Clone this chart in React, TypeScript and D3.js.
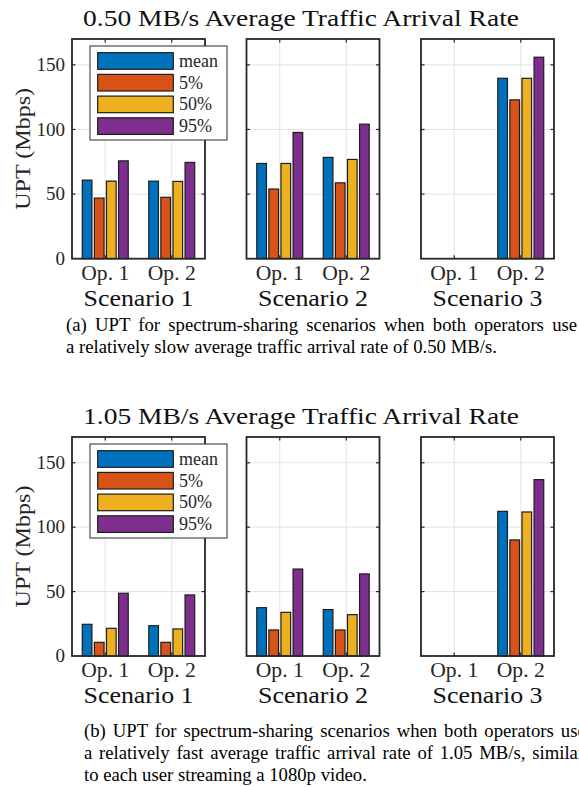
import React from "react";
import * as d3 from "d3";

// Categories
const scenarioLabels = ["Scenario 1", "Scenario 2", "Scenario 3"];
const operatorLabels = ["Op. 1", "Op. 2"];
const statLabels = ["mean", "5%", "50%", "95%"];
const yTickValues = [0, 50, 100, 150];

// UPT (Mbps) at 0.50 MB/s — [scenario][operator]
const slowMean = [[60.8, 60.0], [73.7, 78.4], [0, 139.6]];
const slowP5 = [[46.9, 47.5], [53.9, 58.7], [0, 122.9]];
const slowP50 = [[60.0, 59.8], [73.7, 76.8], [0, 139.6]];
const slowP95 = [[75.7, 74.5], [97.7, 104.1], [0, 155.9]];

// UPT (Mbps) at 1.05 MB/s — [scenario][operator]
const fastMean = [[24.6, 23.5], [37.5, 36.0], [0, 112.3]];
const fastP5 = [[10.6, 10.6], [20.2, 20.2], [0, 90.1]];
const fastP50 = [[21.5, 21.0], [33.9, 32.1], [0, 111.8]];
const fastP95 = [[48.7, 47.4], [67.5, 63.7], [0, 136.9]];

const W = 579;
const H = 787;
const FONT = "'Liberation Serif', 'Times New Roman', serif";
const AX = "#262626";
const COLORS = ["#0072BD", "#D95319", "#EDB120", "#7E2F8E"];

const panelLefts = [72, 246.5, 421];
const panelWidth = 133;
const tickLen = 3.5;

type Layout = {
  axTop: number;
  axBottom: number;
  titleY: number;
  opY: number;
  scenY: number;
  legendTop: number;
};

function BarFigure({
  title,
  series,
  layout,
}: {
  title: string;
  series: number[][][];
  layout: Layout;
}) {
  const { axTop, axBottom, titleY, opY, scenY, legendTop } = layout;
  const y = d3.scaleLinear().domain([0, 170]).range([axBottom, axTop]);
  // grouped bars: 4 bars within 8/11 of a category unit
  const inner = d3
    .scaleBand<string>()
    .domain(statLabels)
    .range([-4 / 11, 4 / 11])
    .paddingInner(0.2)
    .paddingOuter(0.1);

  const legendLeft = 90;
  const legendW = 137;
  const legendH = 94;
  const rowGap = 21.7;

  return (
    <g>
      <text
        x={301}
        y={titleY}
        textAnchor="middle"
        fontFamily={FONT}
        fontSize={24}
        fill="#111"
        textLength={436}
        lengthAdjust="spacingAndGlyphs"
      >
        {title}
      </text>

      {scenarioLabels.map((scen, s) => {
        const left = panelLefts[s];
        const x = d3.scaleLinear().domain([0.5, 2.5]).range([left, left + panelWidth]);
        return (
          <g key={scen}>
            <rect x={left} y={axTop} width={panelWidth} height={axBottom - axTop} fill="#fff" />
            {/* grid */}
            {yTickValues.slice(1).map((t) => (
              <line key={"gy" + t} x1={left} x2={left + panelWidth} y1={y(t)} y2={y(t)} stroke="#e3e3e3" strokeWidth={1} />
            ))}
            {operatorLabels.map((_, j) => (
              <line key={"gx" + j} x1={x(j + 1)} x2={x(j + 1)} y1={axTop} y2={axBottom} stroke="#e3e3e3" strokeWidth={1} />
            ))}
            {/* bars */}
            {operatorLabels.map((op, j) =>
              statLabels.map((st, k) => {
                const v = series[k][s][j];
                const x0 = x(j + 1 + (inner(st) as number));
                const x1 = x(j + 1 + (inner(st) as number) + inner.bandwidth());
                return (
                  <rect
                    key={op + st}
                    x={x0}
                    y={y(v)}
                    width={x1 - x0}
                    height={y(0) - y(v)}
                    fill={COLORS[k]}
                    stroke="#1c1c1c"
                    strokeWidth={1.2}
                  />
                );
              })
            )}
            {/* ticks */}
            {yTickValues.slice(1).map((t) => (
              <g key={"ty" + t}>
                <line x1={left} x2={left + tickLen} y1={y(t)} y2={y(t)} stroke={AX} strokeWidth={1.2} />
                <line x1={left + panelWidth - tickLen} x2={left + panelWidth} y1={y(t)} y2={y(t)} stroke={AX} strokeWidth={1.2} />
              </g>
            ))}
            {operatorLabels.map((_, j) => (
              <g key={"tx" + j}>
                <line x1={x(j + 1)} x2={x(j + 1)} y1={axTop} y2={axTop + tickLen} stroke={AX} strokeWidth={1.2} />
                <line x1={x(j + 1)} x2={x(j + 1)} y1={axBottom - tickLen} y2={axBottom} stroke={AX} strokeWidth={1.2} />
              </g>
            ))}
            {/* box */}
            <rect x={left} y={axTop} width={panelWidth} height={axBottom - axTop} fill="none" stroke={AX} strokeWidth={1.8} />
            {/* x tick labels */}
            {operatorLabels.map((op, j) => (
              <text
                key={"lx" + op}
                x={x(j + 1)}
                y={opY}
                textAnchor="middle"
                fontFamily={FONT}
                fontSize={20}
                fill={AX}
                textLength={48}
                lengthAdjust="spacingAndGlyphs"
              >
                {op}
              </text>
            ))}
            <text
              x={left + panelWidth / 2}
              y={scenY}
              textAnchor="middle"
              fontFamily={FONT}
              fontSize={24}
              fill="#111"
              textLength={110}
              lengthAdjust="spacingAndGlyphs"
            >
              {scen}
            </text>
            {/* y tick labels on first panel */}
            {s === 0 &&
              yTickValues.map((t) => (
                <text
                  key={"ly" + t}
                  x={left - 7}
                  y={y(t)}
                  dy="0.33em"
                  textAnchor="end"
                  fontFamily={FONT}
                  fontSize={19}
                  fill={AX}
                >
                  {t}
                </text>
              ))}
          </g>
        );
      })}

      {/* y axis label */}
      <text
        transform={`translate(30, ${(axTop + axBottom) / 2}) rotate(-90)`}
        textAnchor="middle"
        fontFamily={FONT}
        fontSize={22}
        fill={AX}
        textLength={122}
        lengthAdjust="spacingAndGlyphs"
      >
        UPT (Mbps)
      </text>

      {/* legend */}
      <g>
        <rect x={legendLeft} y={legendTop} width={legendW} height={legendH} fill="#fff" stroke="#2b2b2b" strokeWidth={1} />
        {statLabels.map((st, k) => {
          const cy = legendTop + 15 + k * rowGap;
          return (
            <g key={"lg" + st}>
              <rect x={legendLeft + 7.7} y={cy - 8.3} width={75.6} height={16.6} fill={COLORS[k]} stroke="#1c1c1c" strokeWidth={1.2} />
              <text x={legendLeft + 89} y={cy} dy="0.33em" fontFamily={FONT} fontSize={18} fill={AX}>
                {st}
              </text>
            </g>
          );
        })}
      </g>
    </g>
  );
}

function Caption({ x, lines, baselines, spacing }: { x: number; lines: string[]; baselines: number[]; spacing: number[] }) {
  return (
    <g>
      {lines.map((ln, i) => (
        <text
          key={i}
          x={x}
          y={baselines[i]}
          fontFamily={FONT}
          fontSize={18.7}
          fill="#000"
          style={{ wordSpacing: `${spacing[i]}px` }}
        >
          {ln}
        </text>
      ))}
    </g>
  );
}

export default function App() {
  return (
    <svg width={W} height={H} style={{ position: "absolute", left: 0, top: 0, background: "#fff" }}>
      <rect x={0} y={0} width={W} height={H} fill="#fff" />
      <BarFigure
        title="0.50 MB/s Average Traffic Arrival Rate"
        series={[slowMean, slowP5, slowP50, slowP95]}
        layout={{ axTop: 39, axBottom: 258.7, titleY: 26, opY: 280, scenY: 306, legendTop: 46 }}
      />
      <Caption
        x={66}
        lines={[
          "(a) UPT for spectrum-sharing scenarios when both operators use",
          "a relatively slow average traffic arrival rate of 0.50 MB/s.",
        ]}
        baselines={[331, 353]}
        spacing={[3.6, 0]}
      />
      <BarFigure
        title="1.05 MB/s Average Traffic Arrival Rate"
        series={[fastMean, fastP5, fastP50, fastP95]}
        layout={{ axTop: 437, axBottom: 656, titleY: 424, opY: 677, scenY: 703, legendTop: 444 }}
      />
      <Caption
        x={84}
        lines={[
          "(b) UPT for spectrum-sharing scenarios when both operators use",
          "a relatively fast average traffic arrival rate of 1.05 MB/s, similar",
          "to each user streaming a 1080p video.",
        ]}
        baselines={[737, 759, 781]}
        spacing={[2.3, 2.1, 0]}
      />
    </svg>
  );
}
